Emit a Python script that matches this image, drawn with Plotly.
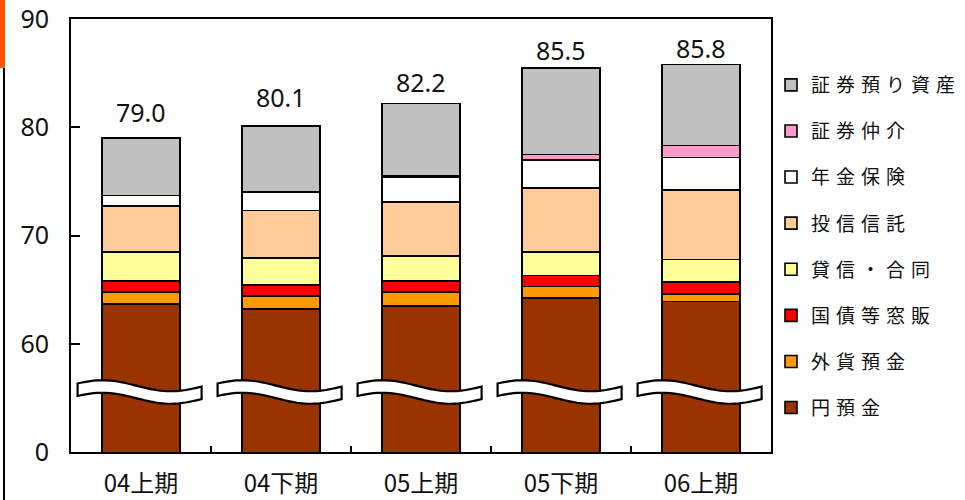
import numpy as np
import plotly.graph_objects as go

# Half-year periods
periods = ["04上期", "04下期", "05上期", "05下期", "06上期"]

# Balances by product (stacked from the bottom up)
yen_deposit = [63.7, 63.2, 63.5, 64.2, 63.9]    # 円預金
fx_deposit = [1.1, 1.2, 1.3, 1.1, 0.7]          # 外貨預金
jgb_sales = [1.0, 1.0, 1.0, 1.0, 1.1]           # 国債等窓販
lending_trust = [2.7, 2.5, 2.3, 2.2, 2.1]       # 貸信・合同
inv_trust = [4.2, 4.4, 5.0, 5.9, 6.4]           # 投信信託
annuity_ins = [1.0, 1.7, 2.3, 2.6, 3.0]         # 年金保険
brokerage = [0.0, 0.0, 0.1, 0.5, 1.1]           # 証券仲介
securities = [5.3, 6.1, 6.7, 8.0, 7.5]          # 証券預り資産

series_names = ["円預金", "外貨預金", "国債等窓販", "貸信・合同",
                "投信信託", "年金保険", "証券仲介", "証券預り資産"]
series_values = [yen_deposit, fx_deposit, jgb_sales, lending_trust,
                 inv_trust, annuity_ins, brokerage, securities]
series_colors = ["#993300", "#FF9900", "#FF0000", "#FFFF99",
                 "#FFCC99", "#FFFFFF", "#FF99CC", "#C0C0C0"]

# Axis: values below 60 are compressed by a break; the bottom reads 0
break_base = 50
tick_values = [50, 60, 70, 80, 90]
tick_labels = ["0", "60", "70", "80", "90"]

totals = [round(sum(v), 1) for v in zip(*series_values)]

# Layout in pixels
W, H = 965, 500
M_L, M_R, M_T, M_B = 71, 194, 19, 48
PW, PH = W - M_L - M_R, H - M_T - M_B
label_offsets_px = [26, 29, 21, 18, 16]

fig = go.Figure()
n = len(series_names)
for i, (name, vals, col) in enumerate(zip(series_names, series_values, series_colors)):
    fig.add_trace(go.Bar(
        x=periods, y=vals, name=name, legendgroup=name,
        legendrank=100 * (n - i),
        marker=dict(color=col, line=dict(color="#000000", width=1.6)),
        hoverinfo="x+y+name",
    ))

# Total labels above each bar
for i, (p, t) in enumerate(zip(periods, totals)):
    fig.add_annotation(
        x=p, y=t, text=f"{t:.1f}", showarrow=False,
        yanchor="middle", yshift=label_offsets_px[i],
        font=dict(family="Noto Sans, sans-serif", size=25, color="#111111"),
    )

# Wavy break symbol across each bar
y_per_px = (90 - break_base) / PH
x_per_px = 1.0 / (PW / len(periods))
half_w = 62 * x_per_px
thick = 12.5 * y_per_px
amp = 5.5 * y_per_px
y_mid = 90 - (392 - M_T) * y_per_px
t = np.linspace(0, 1, 40)
wave = -amp * np.cos(2 * np.pi * (t - 0.2) / 1.1)
for i in range(len(periods)):
    xs = i - 0.01 - half_w + 2 * half_w * t
    top = y_mid + thick / 2 - wave
    bot = y_mid - thick / 2 - wave
    pts = [f"{x:.4f},{y:.4f}" for x, y in zip(xs, top)]
    pts += [f"{x:.4f},{y:.4f}" for x, y in zip(xs[::-1], bot[::-1])]
    fig.add_shape(type="path", path="M" + " L".join(pts) + " Z",
                  xref="x", yref="y", fillcolor="#FFFFFF",
                  line=dict(color="#000000", width=2.2), layer="above")


def px_x(px):
    return (px - M_L) / PW


def px_y(py):
    return 1 - (py - M_T) / PH


# Page edge markers on the left
fig.add_shape(type="rect", xref="paper", yref="paper",
              x0=px_x(0), x1=px_x(5), y0=px_y(68), y1=px_y(0),
              fillcolor="#FF5500", line=dict(width=0), layer="above")
fig.add_shape(type="line", xref="paper", yref="paper",
              x0=px_x(4), x1=px_x(4), y0=px_y(68), y1=px_y(500),
              line=dict(color="#000000", width=2), layer="above")

fig.update_layout(
    width=W, height=H,
    margin=dict(l=M_L, r=M_R, t=M_T, b=M_B, pad=0, autoexpand=False),
    barmode="stack", bargap=0.443,
    plot_bgcolor="#FFFFFF", paper_bgcolor="#FFFFFF",
    font=dict(family="Noto Sans CJK JP, Noto Sans, sans-serif", color="#111111"),
    showlegend=True,
    legend=dict(
        x=1.0, xanchor="left", y=px_y(66), yanchor="top",
        traceorder="grouped", tracegroupgap=18.4,
        font=dict(family="Noto Sans CJK JP", size=19, color="#111111"),
        bgcolor="rgba(0,0,0,0)", borderwidth=0,
    ),
    xaxis=dict(
        type="category", showline=True, linecolor="#000000", linewidth=2,
        mirror=True, ticks="inside", tickson="boundaries", ticklen=6,
        tickwidth=1.5, tickcolor="#000000", showgrid=False,
        ticklabelstandoff=9, automargin=False,
        tickfont=dict(family="Noto Sans CJK JP", size=24, color="#111111"),
    ),
    yaxis=dict(
        range=[break_base, 90], tickvals=tick_values, ticktext=tick_labels,
        showline=True, linecolor="#000000", linewidth=2, mirror=True,
        ticks="inside", ticklen=9, tickwidth=1.5, tickcolor="#000000",
        showgrid=False, zeroline=False, ticklabelstandoff=15, automargin=False,
        tickfont=dict(family="Noto Sans, sans-serif", size=25, color="#111111"),
    ),
)

# Wider character spacing for legend entries
spacing_js = """
document.querySelectorAll('.legendtext').forEach(function(el){
  el.style.letterSpacing = '6px';
});
document.querySelectorAll('g.scrollbox').forEach(function(el){
  el.removeAttribute('clip-path');
});
"""

fig.write_html("out.html", include_plotlyjs=True, post_script=spacing_js,
               config={"displayModeBar": False, "responsive": False})
